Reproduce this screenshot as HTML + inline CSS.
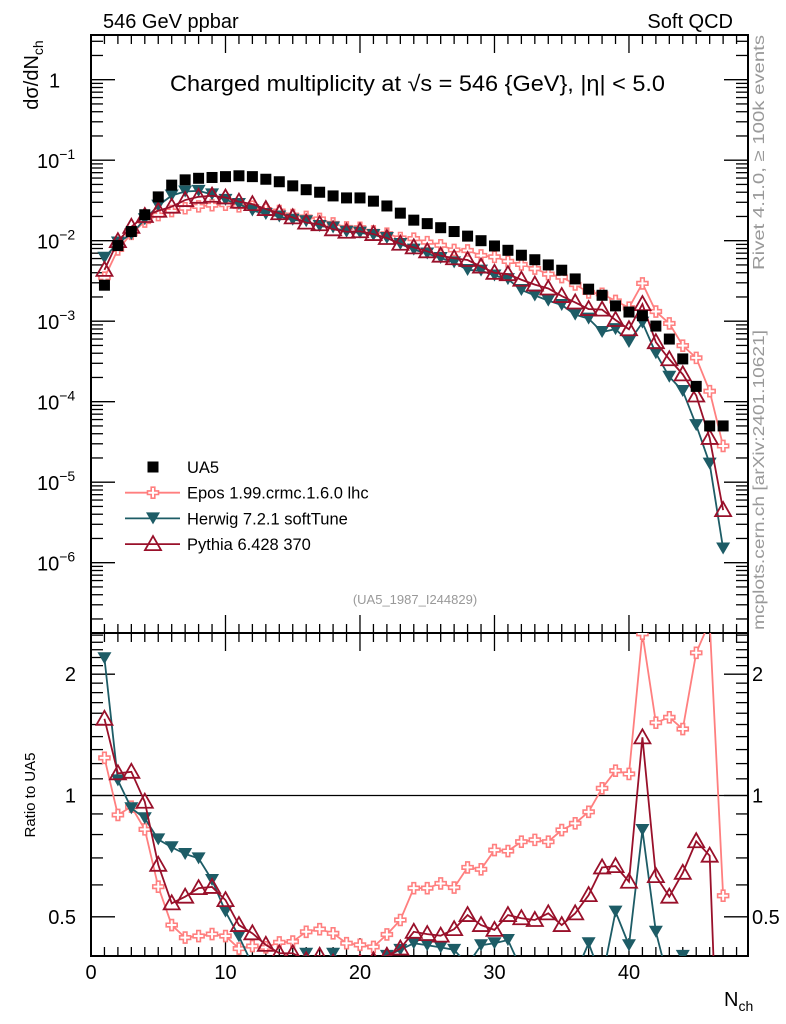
<!DOCTYPE html>
<html><head><meta charset="utf-8"><style>
html,body{margin:0;padding:0;background:#fff;overflow:hidden;width:786px;height:1024px;position:relative}
svg{display:block;position:absolute;left:0;top:0}
text{font-family:"Liberation Sans",sans-serif}
</style></head><body>
<svg id="chart" width="786" height="1024" viewBox="0 0 786 1024" xmlns="http://www.w3.org/2000/svg" overflow="hidden">
<text x="103" y="28" font-size="20">546 GeV ppbar</text>
<text x="733" y="28" font-size="20" text-anchor="end">Soft QCD</text>
<text x="170" y="91" font-size="22" textLength="495" lengthAdjust="spacingAndGlyphs">Charged multiplicity at √s = 546 {GeV}, |η| &lt; 5.0</text>
<text x="415" y="604" font-size="13" fill="#999" text-anchor="middle">(UA5_1987_I244829)</text>
<text transform="translate(764,270) rotate(-90)" font-size="16" fill="#999" textLength="235" lengthAdjust="spacingAndGlyphs">Rivet 4.1.0, ≥ 100k events</text>
<text transform="translate(764,630) rotate(-90)" font-size="16" fill="#999" textLength="300" lengthAdjust="spacingAndGlyphs">mcplots.cern.ch [arXiv:2401.10621]</text>
<text transform="translate(38,75) rotate(-90)" font-size="20" text-anchor="middle">dσ/dN<tspan font-size="14" dy="5">ch</tspan></text>
<text transform="translate(35,795) rotate(-90)" font-size="15" text-anchor="middle">Ratio to UA5</text>
<text x="724" y="1006" font-size="20">N<tspan font-size="14" dy="5">ch</tspan></text>
<g id="layer"></g>
</svg>
<script>
const xs = [1,2,3,4,5,6,7,8,9,10,11,12,13,14,15,16,17,18,19,20,21,22,23,24,25,26,27,28,29,30,31,32,33,34,35,36,37,38,39,40,41,42,43,44,45,46,47];
const ua5 = [2.8e-3,8.7e-3,1.3e-2,2.1e-2,3.5e-2,4.9e-2,5.7e-2,5.96e-2,6.1e-2,6.25e-2,6.4e-2,6.25e-2,5.8e-2,5.4e-2,4.8e-2,4.3e-2,4.0e-2,3.6e-2,3.4e-2,3.4e-2,3.1e-2,2.7e-2,2.2e-2,1.8e-2,1.63e-2,1.45e-2,1.3e-2,1.14e-2,1.0e-2,8.6e-3,7.6e-3,6.6e-3,5.8e-3,5.0e-3,4.3e-3,3.35e-3,2.5e-3,2.1e-3,1.55e-3,1.3e-3,1.17e-3,8.7e-4,6.0e-4,3.4e-4,1.55e-4,5e-5,5e-5];
const eposRatio = [1.24,0.895,0.938,0.824,0.594,0.477,0.444,0.448,0.453,0.448,0.417,0.423,0.42,0.432,0.434,0.459,0.466,0.455,0.43,0.426,0.421,0.452,0.491,0.589,0.589,0.605,0.591,0.663,0.656,0.732,0.728,0.768,0.776,0.768,0.821,0.853,0.911,1.042,1.152,1.131,2.52,1.516,1.563,1.462,2.26,2.7,0.564];
const herwigRatio = [2.19,1.09,0.93,0.878,0.778,0.744,0.716,0.698,0.617,0.515,0.447,0.38,0.37,0.37,0.38,0.405,0.38,0.405,0.38,0.37,0.38,0.40,0.414,0.43,0.425,0.42,0.414,0.38,0.425,0.43,0.438,0.37,0.36,0.36,0.37,0.36,0.43,0.35,0.515,0.425,0.821,0.459,0.34,0.40,0.33,0.34,0.03];
const pythiaRatio = [1.55,1.135,1.145,0.965,0.673,0.54,0.561,0.589,0.593,0.55,0.477,0.455,0.426,0.406,0.406,0.39,0.40,0.385,0.38,0.385,0.39,0.40,0.417,0.459,0.453,0.449,0.466,0.505,0.477,0.464,0.505,0.496,0.491,0.51,0.477,0.51,0.566,0.663,0.668,0.611,1.394,0.631,0.561,0.643,0.77,0.709,0.09];
const mainTickExp = [0,-1,-2,-3,-4,-5,-6];
const ratioTicks = [0.5,1,2];
const xTicks = [0,10,20,30,40];

const NS="http://www.w3.org/2000/svg";
const L=document.getElementById('layer');
function mk(tag,attrs,parent){const e=document.createElementNS(NS,tag);for(const k in attrs)e.setAttribute(k,attrs[k]);(parent||L).appendChild(e);return e;}
const X0=91,X1=748,XMAX=48.85;
const MT=35,MB=633,RT=633,RB=956;
const sx=v=>X0+v/XMAX*(X1-X0);
const syM=v=>240.7-(Math.log10(v)+2)*80.5;
const syR=v=>795.5-Math.log10(v)*403;

const f1=mk('rect',{x:X0,y:MT,width:X1-X0,height:MB-MT,fill:'none',stroke:'#000','stroke-width':2});


const f2=mk('rect',{x:X0,y:RT,width:X1-X0,height:RB-RT,fill:'none',stroke:'#000','stroke-width':2});



for(let v=0;v<=48;v++){
  const len=(v%10===0)?18:9, x=sx(v);
  [[MT,1],[MB,-1],[RT,1],[RB,-1]].forEach(([y,d])=>{
    const t=mk('line',{x1:x,x2:x,y1:y,y2:y+d*len,stroke:'#000','stroke-width':1.3});
    
    
  });
}
xTicks.forEach(v=>{
  const t=mk('text',{x:sx(v),y:979,'font-size':20,'text-anchor':'middle'});
  t.textContent=v;
  
  
});
for(let e=-7;e<=0;e++){
  for(let m=1;m<=9;m++){
    const v=m*Math.pow(10,e), y=syM(v);
    if(y<MT||y>MB)continue;
    const len=m===1?24:12;
    [[X0,1],[X1,-1]].forEach(([x,d])=>{
      const t=mk('line',{x1:x,x2:x+d*len,y1:y,y2:y,stroke:'#000','stroke-width':1.3});
      
      
    });
  }
}
mainTickExp.forEach(e=>{
  const y=syM(Math.pow(10,e));
  const t=mk('text',{x:e===0?49:37,y:y+8,'font-size':20});
  if(e===0)t.textContent='1';
  else{t.textContent='10';const s=mk('tspan',{dy:-9,'font-size':14},t);s.textContent=String(e).replace('-','−');}
  
  
});
for(let k=4;k<=25;k++){
  const vv=k/10, y=syR(vv);
  if(y<RT||y>RB)continue;
  const major=(k===5||k===10||k===20);
  const len=major?24:12;
  [[X0,1],[X1,-1]].forEach(([x,d])=>{
    const t=mk('line',{x1:x,x2:x+d*len,y1:y,y2:y,stroke:'#000','stroke-width':1.3});
    
    
  });
}
ratioTicks.forEach(v=>{
  const y=syR(v);
  [[76,'end'],[752,'start']].forEach(([x,a])=>{
    const t=mk('text',{x:x,y:y+7,'font-size':20,'text-anchor':a});
    t.textContent=v;
    
    
  });
});
const one=mk('line',{x1:X0,x2:X1,y1:syR(1),y2:syR(1),stroke:'#000','stroke-width':1.3});



const defs=mk('defs',{});
const c1=mk('clipPath',{id:'cm'},defs);mk('rect',{x:X0,y:MT,width:X1-X0,height:MB-MT},c1);
const c2=mk('clipPath',{id:'cr'},defs);mk('rect',{x:X0,y:RT,width:X1-X0,height:RB-RT},c2);
const gM=mk('g',{'clip-path':'url(#cm)'});
const gR=mk('g',{'clip-path':'url(#cr)'});

function marker(kind,x,y,col,parent){
  let e;
  if(kind==='sq')e=mk('rect',{x:x-5.5,y:y-5.5,width:11,height:11,fill:'#000'},parent);
  else if(kind==='cross')e=mk('path',{d:`M${x-1.8},${y-5.5}h3.6v3.7h3.7v3.6h-3.7v3.7h-3.6v-3.7h-3.7v-3.6h3.7z`,fill:'#fff',stroke:col,'stroke-width':1.6},parent);
  else if(kind==='down')e=mk('path',{d:`M${x-7},${y-6}L${x+7},${y-6}L${x},${y+6}z`,fill:col},parent);
  else e=mk('path',{d:`M${x},${y-8}L${x+8},${y+6}L${x-8},${y+6}z`,fill:'none',stroke:col,'stroke-width':1.8},parent);
  return e;
}
const series=[
  {name:'epos',r:eposRatio,col:'#ff7f7f',kind:'cross'},
  {name:'herwig',r:herwigRatio,col:'#1d5c66',kind:'down'},
  {name:'pythia',r:pythiaRatio,col:'#99102a',kind:'up'}
];
series.forEach(s=>{
  const mpts=xs.map((x,i)=>[sx(x),syM(ua5[i]*s.r[i])]);
  const rpts=xs.map((x,i)=>[sx(x),syR(s.r[i])]);
  const p1=mk('polyline',{points:mpts.map(p=>p.join(',')).join(' '),fill:'none',stroke:s.col,'stroke-width':1.8},gM);
  
  
  const p2=mk('polyline',{points:rpts.map(p=>p.join(',')).join(' '),fill:'none',stroke:s.col,'stroke-width':1.8},gR);
  
  
  mpts.forEach(p=>{const m=marker(s.kind,p[0],p[1],s.col,gM);
    
    });
  rpts.forEach(p=>{const m=marker(s.kind,p[0],p[1],s.col,gR);
    
    });
});
xs.forEach((x,i)=>{
  const m=marker('sq',sx(x),syM(ua5[i]),'#000',gM);
  
  
});

const leg=[['sq','UA5','#000'],['cross','Epos 1.99.crmc.1.6.0 lhc','#ff7f7f'],['down','Herwig 7.2.1 softTune','#1d5c66'],['up','Pythia 6.428 370','#99102a']];
const lg=mk('g',{});


leg.forEach((l,i)=>{
  const y=467+i*25.7;
  if(i>0){const ln=mk('line',{x1:125,x2:180,y1:y,y2:y,stroke:l[2],'stroke-width':1.8},lg);
    
    }
  const m=marker(l[0],153,y,l[2],lg);
  
  
  const t=mk('text',{x:187,y:y+6,'font-size':16.5},lg);
  t.textContent=l[1];
  
  
});
</script>
</body></html>
